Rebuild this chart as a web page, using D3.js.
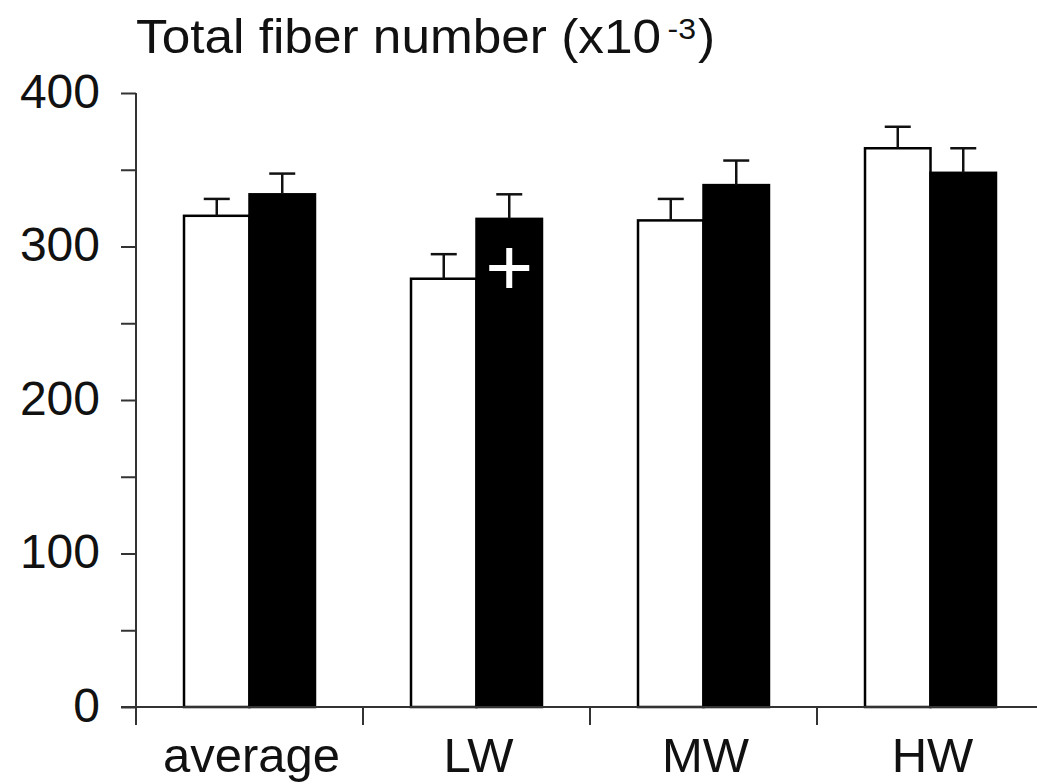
<!DOCTYPE html>
<html>
<head>
<meta charset="utf-8">
<script src="https://cdn.jsdelivr.net/npm/d3@7"></script>
<style>
    body { margin: 0; background: #fff; }
    svg { display: block; font-family: "Liberation Sans", Arial, Helvetica, sans-serif; }
</style>
</head>
<body>
<svg width="1037" height="784"></svg>
<script>
// fiber count per region, open vs filled bars
var categories = ["average", "LW", "MW", "HW"];
var seriesNames = ["open", "filled"];
var openMeans = [320, 279, 317, 364];
var openSem = [11, 16, 14, 14];
var filledMeans = [334, 318, 340, 348];
var filledSem = [13.5, 16, 16, 16];
var yTicks = [0, 50, 100, 150, 200, 250, 300, 350, 400];
var yLabels = [0, 100, 200, 300, 400];
// significance mark (+) on the filled LW bar
var marks = [{ category: "LW", series: "filled", value: 286 }];

var svg = d3.select("svg");

var rows = [];
categories.forEach(function (c, i) {
    rows.push({ category: c, series: "open", mean: openMeans[i], sem: openSem[i] });
    rows.push({ category: c, series: "filled", mean: filledMeans[i], sem: filledSem[i] });
});

var x = d3.scaleBand()
    .domain(categories)
    .range([136, 1044])
    .paddingInner(0.423)
    .paddingOuter(0.2115);

var x1 = d3.scaleBand()
    .domain(seriesNames)
    .range([0, x.bandwidth()]);

var y = d3.scaleLinear()
    .domain([0, 400])
    .range([707, 93]);

// bars
svg.append("g")
    .selectAll("rect")
    .data(rows)
    .enter()
    .append("rect")
    .attr("x", function (d) {
        return x(d.category) + x1(d.series);
    })
    .attr("y", function (d) {
        return y(d.mean);
    })
    .attr("width", x1.bandwidth())
    .attr("height", function (d) {
        return y(0) - y(d.mean);
    })
    .attr("fill", function (d) {
        return d.series === "open" ? "#fff" : "#000";
    })
    .attr("stroke", "#000")
    .attr("stroke-width", 2.5);

// error bars (upper only)
var err = svg.append("g")
    .attr("stroke", "#111")
    .attr("stroke-width", 2.5)
    .selectAll("g")
    .data(rows)
    .enter()
    .append("g")
    .attr("transform", function (d) {
        return "translate(" + (x(d.category) + x1(d.series) + x1.bandwidth() / 2) + ",0)";
    });

err.append("line")
    .attr("x1", 0)
    .attr("x2", 0)
    .attr("y1", function (d) {
        return y(d.mean);
    })
    .attr("y2", function (d) {
        return y(d.mean + d.sem);
    });

err.append("line")
    .attr("x1", -13)
    .attr("x2", 13)
    .attr("y1", function (d) {
        return y(d.mean + d.sem);
    })
    .attr("y2", function (d) {
        return y(d.mean + d.sem);
    });

// plus marks
var plus = svg.append("g")
    .selectAll("g")
    .data(marks)
    .enter()
    .append("g")
    .attr("transform", function (d) {
        return "translate(" + (x(d.category) + x1(d.series) + x1.bandwidth() / 2) + "," + y(d.value) + ")";
    })
    .attr("stroke", "#fff")
    .attr("stroke-width", 6);

plus.append("line").attr("x1", -20).attr("x2", 20).attr("y1", 0).attr("y2", 0);
plus.append("line").attr("x1", 0).attr("x2", 0).attr("y1", -20).attr("y2", 20);

// y axis
var yAxis = svg.append("g")
    .attr("transform", "translate(136,0)")
    .call(d3.axisLeft(y)
        .tickValues(yTicks)
        .tickSize(15)
        .tickSizeOuter(0)
        .tickFormat(function (d) {
            return yLabels.indexOf(d) >= 0 ? d : "";
        }));

yAxis.select(".domain").remove();
yAxis.append("line")
    .attr("x1", 0).attr("x2", 0)
    .attr("y1", y(400)).attr("y2", 725)
    .attr("stroke", "#333")
    .attr("stroke-width", 2);
yAxis.selectAll(".tick line").attr("stroke", "#333").attr("stroke-width", 2);
yAxis.selectAll(".tick text")
    .attr("x", -36)
    .attr("dy", "0.3em")
    .attr("fill", "#111")
    .style("font-size", "48px")
    .style("font-family", "'Liberation Sans', Arial, sans-serif");

// x axis
var bounds = categories.slice(1).map(function (c) {
    return x(c) - x.step() * x.paddingInner() / 2;
});

var xAxis = svg.append("g");
xAxis.append("line")
    .attr("x1", 121).attr("x2", 1037)
    .attr("y1", y(0)).attr("y2", y(0))
    .attr("stroke", "#333")
    .attr("stroke-width", 2);

xAxis.selectAll(".sep")
    .data(bounds)
    .enter()
    .append("line")
    .attr("class", "sep")
    .attr("x1", function (d) { return d; })
    .attr("x2", function (d) { return d; })
    .attr("y1", y(0))
    .attr("y2", 725)
    .attr("stroke", "#333")
    .attr("stroke-width", 2);

xAxis.selectAll("text")
    .data(categories)
    .enter()
    .append("text")
    .attr("x", function (d) {
        return x(d) + x.bandwidth() / 2 + 2;
    })
    .attr("y", 772)
    .attr("text-anchor", "middle")
    .attr("fill", "#111")
    .style("font-size", "49px")
    .text(function (d) { return d; });

// title
var title = svg.append("text")
    .attr("transform", "translate(136,53) scale(1.07,1)")
    .attr("fill", "#111")
    .style("font-size", "48px");
title.append("tspan").text("Total fiber number (x10");
title.append("tspan")
    .attr("dx", 6)
    .attr("dy", -14)
    .style("font-size", "30px")
    .text("-3");
title.append("tspan")
    .attr("dy", 14)
    .attr("dx", 2)
    .text(")");
</script>
</body>
</html>
